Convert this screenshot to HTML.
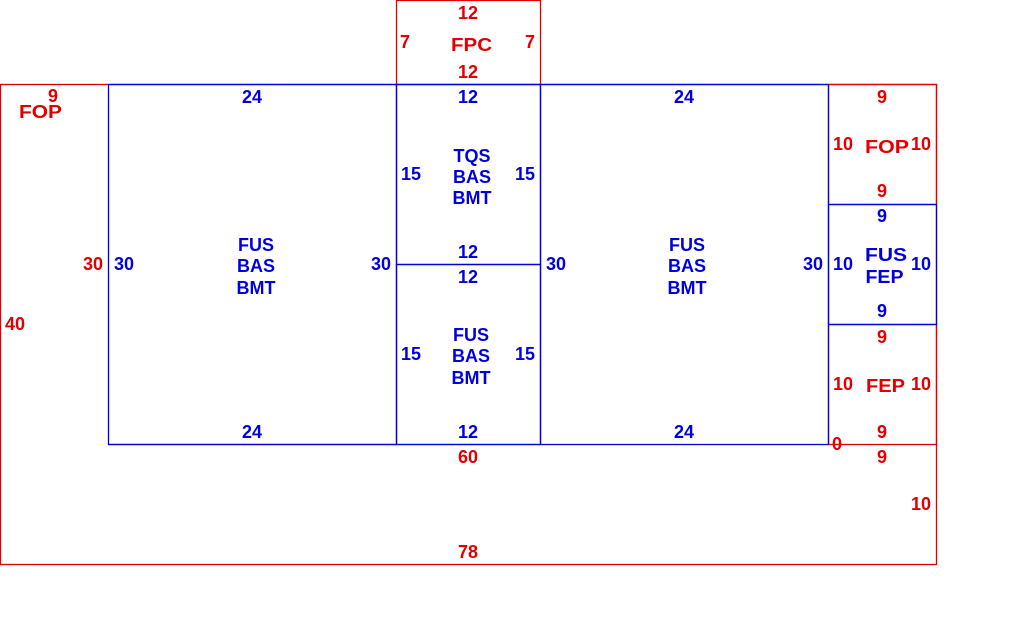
<!DOCTYPE html>
<html><head><meta charset="utf-8"><style>
html,body{margin:0;padding:0;background:#fff;width:1010px;height:640px;overflow:hidden}
svg text{font-family:"Liberation Sans",sans-serif;font-weight:bold;font-size:18px;text-anchor:middle;dominant-baseline:central}
.r{fill:#e00000}.b{fill:#0000dd}
</style></head><body>
<svg width="1010" height="640" xmlns="http://www.w3.org/2000/svg">
<g fill="none" stroke-width="1.3">
<rect x="0.5" y="84.5" width="936" height="480" stroke="#e00000"/>
<rect x="396.5" y="0.5" width="144" height="84" stroke="#e00000"/>
<rect x="828.5" y="84.5" width="108" height="120" stroke="#e00000"/>
<rect x="828.5" y="324.5" width="108" height="120" stroke="#e00000"/>
<line x1="396.5" y1="444.5" x2="540.5" y2="444.5" stroke="#e00000"/>
<rect x="108.5" y="84.5" width="288" height="360" stroke="#0000dd"/>
<rect x="396.5" y="84.5" width="144" height="180" stroke="#0000dd"/>
<rect x="396.5" y="264.5" width="144" height="180" stroke="#0000dd"/>
<rect x="540.5" y="84.5" width="288" height="360" stroke="#0000dd"/>
<rect x="828.5" y="204.5" width="108" height="120" stroke="#0000dd"/>
<line x1="108.5" y1="444.5" x2="396.5" y2="444.5" stroke="#0000dd"/>
</g>
<g>
<text x="468" y="13" class="r">12</text><text x="405" y="42" class="r">7</text><text x="471.5" y="45" class="r" textLength="41" lengthAdjust="spacingAndGlyphs">FPC</text><text x="530" y="42" class="r">7</text><text x="468" y="72" class="r">12</text>
<text x="53" y="96" class="r">9</text><text x="40.5" y="112" class="r" textLength="43" lengthAdjust="spacingAndGlyphs">FOP</text><text x="93" y="264" class="r">30</text><text x="15" y="324" class="r">40</text>
<text x="468" y="457" class="r">60</text><text x="468" y="552" class="r">78</text>
<text x="882" y="97" class="r">9</text><text x="843" y="144" class="r">10</text><text x="887" y="147" class="r" textLength="44" lengthAdjust="spacingAndGlyphs">FOP</text><text x="921" y="144" class="r">10</text><text x="882" y="191" class="r">9</text>
<text x="882" y="337" class="r">9</text><text x="843" y="384" class="r">10</text><text x="885.5" y="386" class="r" textLength="39" lengthAdjust="spacingAndGlyphs">FEP</text><text x="921" y="384" class="r">10</text><text x="882" y="432" class="r">9</text>
<text x="837" y="444" class="r">0</text><text x="882" y="457" class="r">9</text><text x="921" y="504" class="r">10</text>
</g>
<g>
<text x="124" y="264" class="b">30</text>
<text x="252" y="97" class="b">24</text><text x="256" y="245" class="b">FUS</text><text x="256" y="266" class="b">BAS</text><text x="256" y="288" class="b">BMT</text><text x="381" y="264" class="b">30</text><text x="252" y="432" class="b">24</text>
<text x="468" y="97" class="b">12</text><text x="411" y="174" class="b">15</text><text x="472" y="156" class="b">TQS</text><text x="472" y="177" class="b">BAS</text><text x="472" y="198" class="b">BMT</text><text x="525" y="174" class="b">15</text><text x="468" y="252" class="b">12</text>
<text x="468" y="277" class="b">12</text><text x="411" y="354" class="b">15</text><text x="471" y="335" class="b">FUS</text><text x="471" y="356" class="b">BAS</text><text x="471" y="378" class="b">BMT</text><text x="525" y="354" class="b">15</text><text x="468" y="432" class="b">12</text>
<text x="556" y="264" class="b">30</text><text x="684" y="97" class="b">24</text><text x="687" y="245" class="b">FUS</text><text x="687" y="266" class="b">BAS</text><text x="687" y="288" class="b">BMT</text><text x="813" y="264" class="b">30</text><text x="684" y="432" class="b">24</text>
<text x="882" y="216" class="b">9</text><text x="843" y="264" class="b">10</text><text x="886" y="255" class="b" textLength="42" lengthAdjust="spacingAndGlyphs">FUS</text><text x="884.5" y="277" class="b" textLength="38" lengthAdjust="spacingAndGlyphs">FEP</text><text x="921" y="264" class="b">10</text><text x="882" y="311" class="b">9</text>
</g>
</svg>
</body></html>
